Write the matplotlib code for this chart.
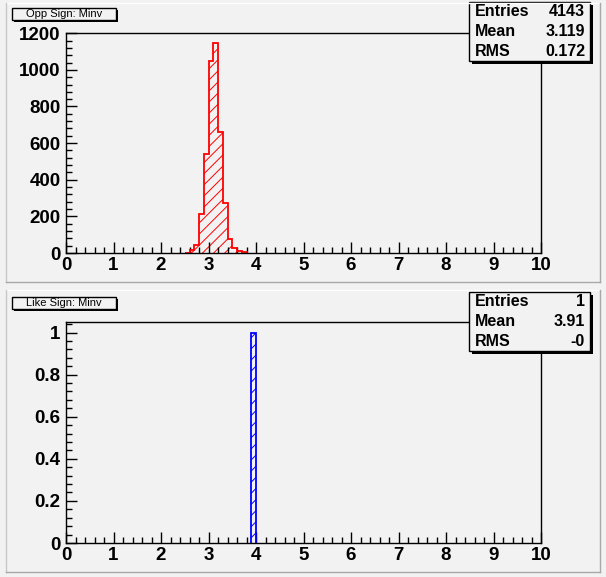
import numpy as np
import matplotlib
matplotlib.use("Agg")
import matplotlib.pyplot as plt
from matplotlib.patches import Rectangle
from matplotlib.lines import Line2D
from matplotlib.ticker import MultipleLocator, FixedLocator

plt.rcParams['font.family'] = ['Liberation Sans', 'DejaVu Sans']
plt.rcParams['hatch.linewidth'] = 0.7

# ---- data ----
opp_bin_lo = [2.5, 2.6, 2.7, 2.8, 2.9, 3.0, 3.1, 3.2, 3.3, 3.4, 3.5, 3.6, 3.7]
opp_counts = [2, 17, 44, 213, 540, 1047, 1144, 658, 273, 75, 30, 13, 6]
like_bin_lo = [3.9]
like_counts = [1]
bin_width = 0.1
x_ticks = [0, 1, 2, 3, 4, 5, 6, 7, 8, 9, 10]
opp_yticks = [0, 200, 400, 600, 800, 1000, 1200]
like_yticks = [0, 0.2, 0.4, 0.6, 0.8, 1]
like_ytick_labels = ["0", "0.2", "0.4", "0.6", "0.8", "1"]
opp_title = "Opp Sign: Minv"
like_title = "Like Sign: Minv"
opp_stats = [("Entries", "4143"), ("Mean", "3.119"), ("RMS", "0.172")]
like_stats = [("Entries", "1"), ("Mean", "3.91"), ("RMS", "-0")]

W, H = 606, 577
BG = "#f2f2f2"
fig = plt.figure(figsize=(W / 100, H / 100), dpi=100, facecolor=BG)


def fx(x):
    return x / W


def fy(y):
    return 1 - y / H


def hline(x0, x1, y, color, lw=1.0):
    fig.add_artist(Line2D([fx(x0), fx(x1)], [fy(y), fy(y)], color=color, lw=lw,
                          transform=fig.transFigure))


def vline(x, y0, y1, color, lw=1.0):
    fig.add_artist(Line2D([fx(x), fx(x)], [fy(y0), fy(y1)], color=color, lw=lw,
                          transform=fig.transFigure))


# pad borders
for (top, bot) in [(3, 282), (290, 572)]:
    hline(6, 600, top, "white")
    vline(6, top, bot, "#c8c8c8")
    hline(6, 600, bot, "#a8a8a8")
    vline(600, top, bot, "#a8a8a8")


def make_axes(left, top, right, bottom):
    ax = fig.add_axes([fx(left), fy(bottom), (right - left) / W, (bottom - top) / H])
    ax.set_facecolor(BG)
    for s in ax.spines.values():
        s.set_linewidth(1.0)
        s.set_color("black")
        s.set_zorder(3)
    return ax


def hist(ax, lo, counts, color):
    lo = np.asarray(lo, float)
    edges = np.append(lo, lo[-1] + bin_width)
    vals = np.asarray(counts, float)
    ax.stairs(vals, edges, fill=True, facecolor="none", edgecolor=color,
              hatch="///", linewidth=0, zorder=1)
    ax.stairs(vals, edges, color=color, linewidth=1.3, baseline=0, zorder=2)


def style_axes(ax, ymax, yticks, ylabels, yminor):
    ax.set_xlim(0, 10)
    ax.set_ylim(0, ymax)
    ax.xaxis.set_major_locator(FixedLocator(x_ticks))
    ax.xaxis.set_minor_locator(MultipleLocator(0.2))
    ax.yaxis.set_major_locator(FixedLocator(yticks))
    ax.yaxis.set_minor_locator(MultipleLocator(yminor))
    ax.set_xticklabels([str(t) for t in x_ticks])
    ax.set_yticklabels(ylabels)
    ax.tick_params(axis="both", which="major", direction="in", length=8, width=1,
                   labelsize=13.5, top=False, right=False)
    ax.tick_params(axis="both", which="minor", direction="in", length=4, width=1,
                   top=False, right=False)
    ax.tick_params(axis="x", pad=3)
    ax.tick_params(axis="y", pad=4)
    for lab in ax.get_xticklabels() + ax.get_yticklabels():
        lab.set_fontweight("bold")


def title_box(x0, y0, x1, y1, text):
    fig.add_artist(Rectangle((fx(x0 + 2), fy(y1 + 2)), (x1 - x0) / W, (y1 - y0) / H,
                             transform=fig.transFigure, facecolor="black", edgecolor="none"))
    fig.add_artist(Rectangle((fx(x0), fy(y1)), (x1 - x0) / W, (y1 - y0) / H,
                             transform=fig.transFigure, facecolor=BG, edgecolor="black", lw=1))
    fig.text(fx((x0 + x1) / 2), fy((y0 + y1) / 2), text, ha="center", va="center",
             fontsize=8)


def stats_box(x0, y0, x1, y1, rows):
    fig.add_artist(Rectangle((fx(x0 + 3), fy(y1 + 3)), (x1 - x0) / W, (y1 - y0) / H,
                             transform=fig.transFigure, facecolor="black", edgecolor="none"))
    fig.add_artist(Rectangle((fx(x0), fy(y1)), (x1 - x0) / W, (y1 - y0) / H,
                             transform=fig.transFigure, facecolor=BG, edgecolor="black", lw=1))
    step = (y1 - y0) / len(rows)
    for i, (k, v) in enumerate(rows):
        yc = y0 + step * (i + 0.5)
        fig.text(fx(x0 + 6), fy(yc), k, ha="left", va="center", fontsize=11.5,
                 fontweight="bold")
        fig.text(fx(x1 - 5), fy(yc), v, ha="right", va="center", fontsize=11.5,
                 fontweight="bold")


# top pad
ax1 = make_axes(66, 33, 541, 253)
hist(ax1, opp_bin_lo, opp_counts, "red")
style_axes(ax1, 1.05 * max(opp_counts), opp_yticks, [str(t) for t in opp_yticks], 40)
title_box(12, 8, 116, 20, opp_title)
stats_box(469, 2, 590, 61, opp_stats)

# bottom pad
ax2 = make_axes(66, 322, 541, 543)
hist(ax2, like_bin_lo, like_counts, "blue")
style_axes(ax2, 1.05 * max(like_counts), like_yticks, like_ytick_labels, 0.04)
title_box(12, 297, 116, 309, like_title)
stats_box(469, 292, 590, 351, like_stats)

fig.savefig("out.png", dpi=100, facecolor=BG)
